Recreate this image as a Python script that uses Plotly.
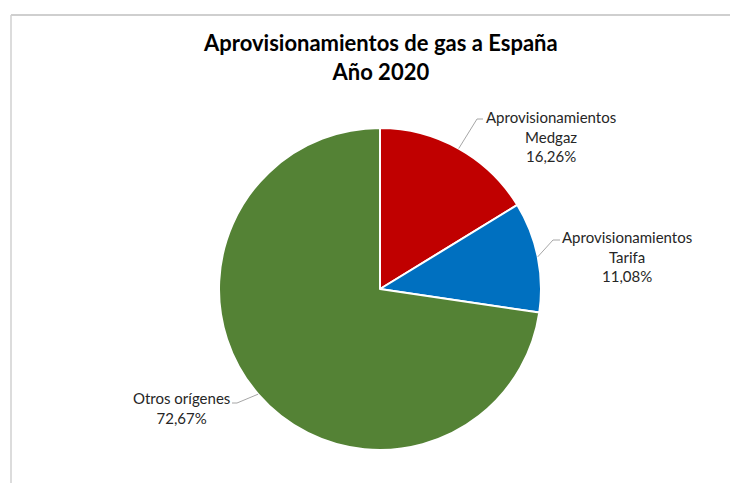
import numpy as np
import plotly.graph_objects as go

labels = ["Aprovisionamientos<br>Medgaz", "Aprovisionamientos<br>Tarifa", "Otros orígenes"]
values = [16.26, 11.08, 72.67]
colors = ["#C00000", "#0070C0", "#548235"]
title_lines = ["Aprovisionamientos de gas a España", "Año 2020"]

OFF = 8  # page body margin
W, H = 738 - OFF, 483 - OFF
cx, cy, R = 380.0, 289.0, 161.0  # pie centre / radius in screen px


def px(x, y):
    return (x - OFF) / W, 1 - (y - OFF) / H


d0 = px(cx - R, cy + R)
d1 = px(cx + R, cy - R)
fig = go.Figure(go.Pie(
    labels=labels, values=values, sort=False, direction="clockwise", rotation=0,
    marker=dict(colors=colors, line=dict(color="white", width=2)),
    textinfo="none", hoverinfo="label+percent", showlegend=False,
    domain=dict(x=[d0[0], d1[0]], y=[d0[1], d1[1]]),
))

label_pos = [(551, 136), (627, 256), (181, 408)]
elbows = [((477, 119), (483, 119)), ((553, 240), (560, 240)), ((237, 403), (232, 403))]

shapes = []
annotations = []
total = sum(values)
start = 0.0
for lab, v, lp, el in zip(labels, values, label_pos, elbows):
    pct = 100 * v / total
    mid = (start + pct / 2) / 100 * 2 * np.pi
    start += pct
    ex, ey = cx + R * np.sin(mid), cy - R * np.cos(mid)
    (bx, by), (hx, hy) = el
    for (x0, y0, x1, y1) in [(ex, ey, bx, by), (bx, by, hx, hy)]:
        a0 = px(x0, y0); a1 = px(x1, y1)
        shapes.append(dict(type="line", xref="paper", yref="paper", x0=a0[0], y0=a0[1],
                           x1=a1[0], y1=a1[1], line=dict(color="#A6A6A6", width=1)))
    txt = lab + "<br>" + f"{v:.2f}".replace(".", ",") + "%"
    p = px(*lp)
    annotations.append(dict(x=p[0], y=p[1], xref="paper", yref="paper", text=txt, showarrow=False,
                            align="center", xanchor="center", yanchor="middle",
                            font=dict(family="Lato, Carlito, sans-serif", size=15, color="#262626")))

t = px(380, 57)
annotations.append(dict(x=t[0], y=t[1], xref="paper", yref="paper",
                        text="<b>" + "<br>".join(title_lines) + "</b>", showarrow=False,
                        align="center", xanchor="center", yanchor="middle",
                        font=dict(family="Lato, Carlito, sans-serif", size=22, color="#000000")))

# chart-area border (top and left visible)
b0 = px(11, 15); b1 = px(738, 15); b2 = px(11, 483)
shapes.append(dict(type="line", xref="paper", yref="paper", x0=b0[0], y0=b0[1], x1=b1[0], y1=b1[1],
                   line=dict(color="#BFBFBF", width=1.5)))
shapes.append(dict(type="line", xref="paper", yref="paper", x0=b0[0], y0=b0[1], x1=b2[0], y1=b2[1],
                   line=dict(color="#D0D0D0", width=1.5)))

fig.update_layout(width=W, height=H, margin=dict(l=0, r=0, t=0, b=0),
                  paper_bgcolor="white", plot_bgcolor="white",
                  shapes=shapes, annotations=annotations)
fig.write_html("out.html")
